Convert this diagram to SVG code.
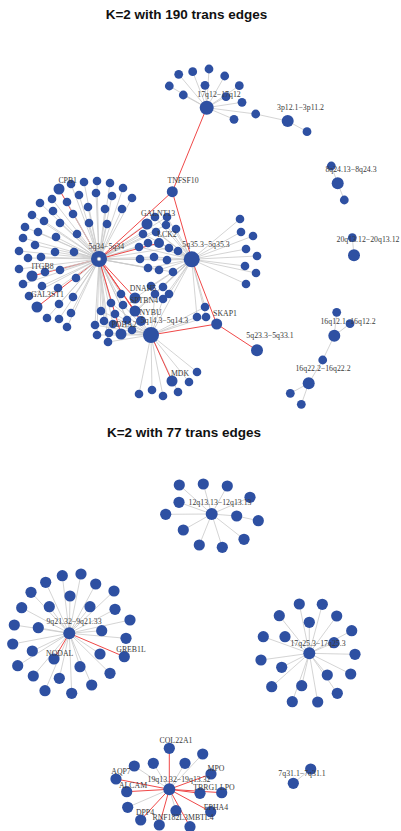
<svg xmlns="http://www.w3.org/2000/svg" width="401" height="831" viewBox="0 0 401 831">
<style>
.e{stroke:#c9c9c9;stroke-width:0.8;fill:none}
.t{stroke:#f04848;stroke-width:1;fill:none}
.n{fill:#2e50a2}
.lb{font-family:"Liberation Serif","Times New Roman",serif;font-size:7.8px;fill:#3a3a3a;text-anchor:middle}
.ti{font-family:"Liberation Sans",Arial,sans-serif;font-size:13.5px;font-weight:bold;fill:#111;text-anchor:middle}
</style>
<rect width="401" height="831" fill="#fff"/>
<text class="ti" x="186.5" y="19">K=2 with 190 trans edges</text>
<text class="ti" x="184" y="437">K=2 with 77 trans edges</text>

<!-- connectors -->
<g id="edges">
<!-- trans edges that run under the dense 5q34 fan -->
<path class="t" d="M99 259L59 189M99 259L32 276M99 259L37 307"/>
<!-- 17q12 and 3p12.1 hubs -->
<path class="e" d="M206.7 107.7L178.7 74.3M206.7 107.7L192.7 71.7M206.7 107.7L209 69M206.7 107.7L224.7 76M206.7 107.7L169.3 86M206.7 107.7L205 85.3M206.7 107.7L239.3 85.7M206.7 107.7L183.3 95M206.7 107.7L226 96.7M206.7 107.7L242 102.3M206.7 107.7L234 119.3M206.7 107.7L255.7 114L287.7 121L307 131.7"/>
<!-- small components on the right -->
<path class="e" d="M337.7 183.3L331.3 166M337.7 183.3L344.3 200M354 255.3L352.3 237.7M334.3 335.7L336.7 312.3M334.3 335.7L350 323.7M334.3 335.7L322.7 360L308.7 383.3L290.3 393.3M308.7 383.3L301.3 404.3"/>
<!-- 5q34 hub -->
<path class="e" d="M99 259L71 184M99 259L84 182M99 259L97 181M99 259L110 183M99 259L123 188M99 259L52 199M99 259L67 202M99 259L79 195M99 259L96 193M99 259L112 196M99 259L132 198M99 259L40 203M99 259L32 215M99 259L53 211M99 259L73 214M99 259L88 207M99 259L105 209M99 259L122 209M99 259L25 227M99 259L44 221M99 259L60 223M99 259L89 223M99 259L107 224M99 259L23 238M99 259L38 232M99 259L56 237M99 259L77 234M99 259L19 251M99 259L35 245M99 259L55 252M99 259L74 252M99 259L28 258M99 259L41 257M99 259L19 269M99 259L45 272M99 259L60 270M99 259L23 284M99 259L42 286M99 259L58 288M99 259L76 278M99 259L29 296M99 259L59 304M99 259L73 297M99 259L47 318M99 259L59 319M99 259L71 313M99 259L67 327"/>
<path class="e" d="M99 259L155 217M99 259L167 217M99 259L166 225M99 259L156 232M99 259L143 234M99 259L148 243M99 259L169 248M99 259L139 247M99 259L154 257M99 259L167 260M99 259L140 259M99 259L148 268M99 259L159 270M99 259L173 272"/>
<path class="e" d="M99 259L121 294M99 259L111 303M99 259L123 305M99 259L101 311M99 259L115 314M99 259L104 321M99 259L127 320M99 259L113 324M99 259L132 330M99 259L109 333M99 259L108 342M99 259L95 325M99 259L97 335M99 259L151 335"/>
<!-- 5q35.3 hub -->
<path class="e" d="M191.7 259.3L147 224M191.7 259.3L155 217M191.7 259.3L167 217M191.7 259.3L166 225M191.7 259.3L176 229M191.7 259.3L156 232M191.7 259.3L143 234M191.7 259.3L148 243M191.7 259.3L159 243M191.7 259.3L169 248M191.7 259.3L178 251M191.7 259.3L139 247M191.7 259.3L154 257M191.7 259.3L167 260M191.7 259.3L140 259M191.7 259.3L148 268M191.7 259.3L159 270M191.7 259.3L173 272"/>
<path class="e" d="M191.7 259.3L240 219M191.7 259.3L241 232M191.7 259.3L253 236M191.7 259.3L246 249M191.7 259.3L257 256M191.7 259.3L245 266M191.7 259.3L256 273M191.7 259.3L246 284M191.7 259.3L151 286M191.7 259.3L163 287M191.7 259.3L169 294M191.7 259.3L155 294M191.7 259.3L163 299M191.7 259.3L197 317M191.7 259.3L206 317M191.7 259.3L205 307M191.7 259.3L135 298M191.7 259.3L135 311M191.7 259.3L127 320M191.7 259.3L151 335"/>
<!-- 5q14.3 hub -->
<path class="e" d="M151 335L139 394M151 335L152 390M151 335L163 396M151 335L178 392M151 335L189 382M151 335L197 372M151 335L197 317M151 335L206 317M151 335L205 307M151 335L101 311M151 335L115 314M151 335L104 321M151 335L113 324M151 335L132 330M151 335L109 333M151 335L108 342M151 335L95 325M151 335L97 335M151 335L163 299M151 335L155 294M151 335L123 305M151 335L111 303"/>
<!-- trans edges, upper panel -->
<path class="t" d="M206.7 107.7L172.3 191.7L99 259M172.3 191.7L191.7 259.3L216.7 324L257 350.3M216.7 324L151 335L172 381M99 259L147 224M99 259L159 243M99 259L135 298M99 259L135 311M99 259L141 321M99 259L121 334"/>
<!-- lower panel -->
<path class="e" d="M211.7 514L179.3 485M211.7 514L203.3 484M211.7 514L227.3 486M211.7 514L250 497.3M211.7 514L179 502.3M211.7 514L165.7 514.3M211.7 514L236.7 516L258.3 520.7M211.7 514L183.3 530M211.7 514L244 539.3M211.7 514L199.3 545M211.7 514L222.3 547.3"/>
<path class="e" d="M69.3 633.3L62.3 575.7M69.3 633.3L81 574M69.3 633.3L45.7 582.3M69.3 633.3L95.7 584M69.3 633.3L31 592.3M69.3 633.3L70 596M69.3 633.3L114 591M69.3 633.3L21.7 607.7M69.3 633.3L49.3 606.7M69.3 633.3L90 606.7M69.3 633.3L115 609.3M69.3 633.3L130 620M69.3 633.3L14.3 625M69.3 633.3L38.3 627.7M69.3 633.3L101.7 630.7M69.3 633.3L126 638.3M69.3 633.3L12.7 644M69.3 633.3L32.3 651M69.3 633.3L100 654M69.3 633.3L17.7 665.7M69.3 633.3L80 666.7M69.3 633.3L110 673.3M69.3 633.3L33.3 676M69.3 633.3L59.3 678.3M69.3 633.3L91.7 685M69.3 633.3L45 690.7M69.3 633.3L71.7 693.3"/>
<path class="t" d="M69.3 633.3L54 659M69.3 633.3L124.3 656.7"/>
<path class="e" d="M309.3 653.3L299.3 604M309.3 653.3L322.3 604.3M309.3 653.3L279.3 615.7M309.3 653.3L336.7 616M309.3 653.3L309.3 622.3M309.3 653.3L351.7 630.7M309.3 653.3L263.3 636.7M309.3 653.3L285 636.7M309.3 653.3L334 642.7M309.3 653.3L355 654.3M309.3 653.3L261 660M309.3 653.3L281.7 667.3M309.3 653.3L327.3 675M309.3 653.3L350.7 674M309.3 653.3L271.7 686.7M309.3 653.3L301.7 685.7M309.3 653.3L337.3 693.3M309.3 653.3L292.3 701.7M309.3 653.3L317.7 702"/>
<path class="e" d="M169.3 789.3L202.7 754M169.3 789.3L153.3 763.3M169.3 789.3L185 763.3M169.3 789.3L134.3 766M169.3 789.3L127.7 807.3M169.3 789.3L176 810.7M310.7 769L293.3 783.3"/>
<path class="t" d="M169.3 789.3L169.3 748.3M169.3 789.3L211 774M169.3 789.3L116 779M169.3 789.3L126.7 791.7M169.3 789.3L200 793.3M169.3 789.3L221.7 792.7M169.3 789.3L210.7 811.7M169.3 789.3L140.7 820M169.3 789.3L159.3 825M169.3 789.3L190 826.7"/>
</g>

<!-- nodes: upper panel -->
<g id="hub-17q12" class="n"><circle cx="206.7" cy="107.7" r="7"/></g>
<g id="n17a" class="n"><circle cx="178.7" cy="74.3" r="4.4"/></g>
<g id="n17b" class="n"><circle cx="192.7" cy="71.7" r="4.4"/></g>
<g id="n17c" class="n"><circle cx="209" cy="69" r="4.4"/></g>
<g id="n17d" class="n"><circle cx="224.7" cy="76" r="4.4"/></g>
<g id="n17e" class="n"><circle cx="169.3" cy="86" r="4.4"/></g>
<g id="n17f" class="n"><circle cx="205" cy="85.3" r="4.4"/></g>
<g id="n17g" class="n"><circle cx="239.3" cy="85.7" r="4.4"/></g>
<g id="n17h" class="n"><circle cx="183.3" cy="95" r="4.4"/></g>
<g id="n17i" class="n"><circle cx="226" cy="96.7" r="4.4"/></g>
<g id="n17j" class="n"><circle cx="242" cy="102.3" r="4.4"/></g>
<g id="n17k" class="n"><circle cx="234" cy="119.3" r="4.4"/></g>
<g id="n17l" class="n"><circle cx="255.7" cy="114" r="4.4"/></g>
<g id="hub-3p12" class="n"><circle cx="287.7" cy="121" r="6"/></g>
<g id="n3a" class="n"><circle cx="307" cy="131.7" r="4.4"/></g>
<g id="n8a" class="n"><circle cx="331.3" cy="166" r="4.4"/></g>
<g id="hub-8q24" class="n"><circle cx="337.7" cy="183.3" r="6"/></g>
<g id="n8b" class="n"><circle cx="344.3" cy="200" r="4.4"/></g>
<g id="n20a" class="n"><circle cx="352.3" cy="237.7" r="4.4"/></g>
<g id="hub-20q13" class="n"><circle cx="354" cy="255.3" r="6"/></g>
<g id="n16a" class="n"><circle cx="336.7" cy="312.3" r="4.4"/></g>
<g id="n16b" class="n"><circle cx="350" cy="323.7" r="4.4"/></g>
<g id="hub-16q12" class="n"><circle cx="334.3" cy="335.7" r="6"/></g>
<g id="n16c" class="n"><circle cx="322.7" cy="360" r="4.4"/></g>
<g id="hub-16q22" class="n"><circle cx="308.7" cy="383.3" r="6"/></g>
<g id="n16d" class="n"><circle cx="290.3" cy="393.3" r="4.4"/></g>
<g id="n16e" class="n"><circle cx="301.3" cy="404.3" r="4.4"/></g>
<g id="hub-5q23" class="n"><circle cx="257" cy="350.3" r="6"/></g>
<g id="TNFSF10" class="n"><circle cx="172.3" cy="191.7" r="5.5"/></g>
<g id="SKAP1" class="n"><circle cx="216.7" cy="324" r="5.5"/></g>

<!-- 5q34 neighbours -->
<g id="CPB1" class="n"><circle cx="59" cy="189" r="5.5"/></g>
<g id="ITGB8" class="n"><circle cx="32" cy="276" r="5.5"/></g>
<g id="GAL3ST1" class="n"><circle cx="37" cy="307" r="5.5"/></g>
<g id="l01" class="n"><circle cx="71" cy="184" r="4.3"/></g>
<g id="l02" class="n"><circle cx="84" cy="182" r="4.3"/></g>
<g id="l03" class="n"><circle cx="97" cy="181" r="4.3"/></g>
<g id="l04" class="n"><circle cx="110" cy="183" r="4.3"/></g>
<g id="l05" class="n"><circle cx="123" cy="188" r="4.3"/></g>
<g id="l06" class="n"><circle cx="52" cy="199" r="4.3"/></g>
<g id="l07" class="n"><circle cx="67" cy="202" r="4.3"/></g>
<g id="l08" class="n"><circle cx="79" cy="195" r="4.3"/></g>
<g id="l09" class="n"><circle cx="96" cy="193" r="4.3"/></g>
<g id="l10" class="n"><circle cx="112" cy="196" r="4.3"/></g>
<g id="l11" class="n"><circle cx="132" cy="198" r="4.3"/></g>
<g id="l12" class="n"><circle cx="40" cy="203" r="4.3"/></g>
<g id="l13" class="n"><circle cx="32" cy="215" r="4.3"/></g>
<g id="l14" class="n"><circle cx="53" cy="211" r="4.3"/></g>
<g id="l15" class="n"><circle cx="73" cy="214" r="4.3"/></g>
<g id="l16" class="n"><circle cx="88" cy="207" r="4.3"/></g>
<g id="l17" class="n"><circle cx="105" cy="209" r="4.3"/></g>
<g id="l18" class="n"><circle cx="122" cy="209" r="4.3"/></g>
<g id="l19" class="n"><circle cx="25" cy="227" r="4.3"/></g>
<g id="l20" class="n"><circle cx="44" cy="221" r="4.3"/></g>
<g id="l21" class="n"><circle cx="60" cy="223" r="4.3"/></g>
<g id="l22" class="n"><circle cx="89" cy="223" r="4.3"/></g>
<g id="l23" class="n"><circle cx="107" cy="224" r="4.3"/></g>
<g id="l24" class="n"><circle cx="23" cy="238" r="4.3"/></g>
<g id="l25" class="n"><circle cx="38" cy="232" r="4.3"/></g>
<g id="l26" class="n"><circle cx="56" cy="237" r="4.3"/></g>
<g id="l27" class="n"><circle cx="77" cy="234" r="4.3"/></g>
<g id="l28" class="n"><circle cx="19" cy="251" r="4.3"/></g>
<g id="l29" class="n"><circle cx="35" cy="245" r="4.3"/></g>
<g id="l30" class="n"><circle cx="55" cy="252" r="4.3"/></g>
<g id="l31" class="n"><circle cx="74" cy="252" r="4.3"/></g>
<g id="l32" class="n"><circle cx="28" cy="258" r="4.3"/></g>
<g id="l33" class="n"><circle cx="41" cy="257" r="4.3"/></g>
<g id="l34" class="n"><circle cx="19" cy="269" r="4.3"/></g>
<g id="l35" class="n"><circle cx="45" cy="272" r="4.3"/></g>
<g id="l36" class="n"><circle cx="60" cy="270" r="4.3"/></g>
<g id="l37" class="n"><circle cx="23" cy="284" r="4.3"/></g>
<g id="l38" class="n"><circle cx="42" cy="286" r="4.3"/></g>
<g id="l39" class="n"><circle cx="58" cy="288" r="4.3"/></g>
<g id="l40" class="n"><circle cx="76" cy="278" r="4.3"/></g>
<g id="l41" class="n"><circle cx="29" cy="296" r="4.3"/></g>
<g id="l42" class="n"><circle cx="59" cy="304" r="4.3"/></g>
<g id="l43" class="n"><circle cx="73" cy="297" r="4.3"/></g>
<g id="l44" class="n"><circle cx="47" cy="318" r="4.3"/></g>
<g id="l45" class="n"><circle cx="59" cy="319" r="4.3"/></g>
<g id="l46" class="n"><circle cx="71" cy="313" r="4.3"/></g>
<g id="l47" class="n"><circle cx="67" cy="327" r="4.3"/></g>

<!-- shared neighbours between 5q34 and 5q35.3 -->
<g id="GALNT13" class="n"><circle cx="147" cy="224" r="5.5"/></g>
<g id="LCK2" class="n"><circle cx="159" cy="243" r="5"/></g>
<g id="m01" class="n"><circle cx="155" cy="217" r="4.3"/></g>
<g id="m02" class="n"><circle cx="167" cy="217" r="4.3"/></g>
<g id="m03" class="n"><circle cx="166" cy="225" r="4.3"/></g>
<g id="m04" class="n"><circle cx="176" cy="229" r="4.3"/></g>
<g id="m05" class="n"><circle cx="156" cy="232" r="4.3"/></g>
<g id="m06" class="n"><circle cx="143" cy="234" r="4.3"/></g>
<g id="m07" class="n"><circle cx="148" cy="243" r="4.3"/></g>
<g id="m08" class="n"><circle cx="169" cy="248" r="4.3"/></g>
<g id="m09" class="n"><circle cx="178" cy="251" r="4.3"/></g>
<g id="m10" class="n"><circle cx="139" cy="247" r="4.3"/></g>
<g id="m11" class="n"><circle cx="154" cy="257" r="4.3"/></g>
<g id="m12" class="n"><circle cx="167" cy="260" r="4.3"/></g>
<g id="m13" class="n"><circle cx="140" cy="259" r="4.3"/></g>
<g id="m14" class="n"><circle cx="148" cy="268" r="4.3"/></g>
<g id="m15" class="n"><circle cx="159" cy="270" r="4.3"/></g>
<g id="m16" class="n"><circle cx="173" cy="272" r="4.3"/></g>

<!-- 5q35.3 outer neighbours -->
<g id="r1" class="n"><circle cx="240" cy="219" r="4.3"/></g>
<g id="r2" class="n"><circle cx="241" cy="232" r="4.3"/></g>
<g id="r3" class="n"><circle cx="253" cy="236" r="4.3"/></g>
<g id="r4" class="n"><circle cx="246" cy="249" r="4.3"/></g>
<g id="r5" class="n"><circle cx="257" cy="256" r="4.3"/></g>
<g id="r6" class="n"><circle cx="245" cy="266" r="4.3"/></g>
<g id="r7" class="n"><circle cx="256" cy="273" r="4.3"/></g>
<g id="r8" class="n"><circle cx="246" cy="284" r="4.3"/></g>

<!-- 5q14.3 neighbourhood -->
<g id="DNAH5" class="n"><circle cx="135" cy="298" r="5.5"/></g>
<g id="SPTBN4" class="n"><circle cx="135" cy="311" r="5.5"/></g>
<g id="NYBU" class="n"><circle cx="141" cy="321" r="5"/></g>
<g id="PDHA2" class="n"><circle cx="121" cy="334" r="5.5"/></g>
<g id="MDK" class="n"><circle cx="172" cy="381" r="5.5"/></g>
<g id="w01" class="n"><circle cx="151" cy="286" r="4.3"/></g>
<g id="w02" class="n"><circle cx="163" cy="287" r="4.3"/></g>
<g id="w03" class="n"><circle cx="169" cy="294" r="4.3"/></g>
<g id="w04" class="n"><circle cx="155" cy="294" r="4.3"/></g>
<g id="w05" class="n"><circle cx="163" cy="299" r="4.3"/></g>
<g id="w06" class="n"><circle cx="121" cy="294" r="4.3"/></g>
<g id="w07" class="n"><circle cx="111" cy="303" r="4.3"/></g>
<g id="w08" class="n"><circle cx="123" cy="305" r="4.3"/></g>
<g id="w09" class="n"><circle cx="101" cy="311" r="4.3"/></g>
<g id="w10" class="n"><circle cx="115" cy="314" r="4.3"/></g>
<g id="w11" class="n"><circle cx="104" cy="321" r="4.3"/></g>
<g id="w12" class="n"><circle cx="127" cy="320" r="4.3"/></g>
<g id="w13" class="n"><circle cx="113" cy="324" r="4.3"/></g>
<g id="w14" class="n"><circle cx="132" cy="330" r="4.3"/></g>
<g id="w15" class="n"><circle cx="109" cy="333" r="4.3"/></g>
<g id="w16" class="n"><circle cx="108" cy="342" r="4.3"/></g>
<g id="w17" class="n"><circle cx="95" cy="325" r="4.3"/></g>
<g id="w18" class="n"><circle cx="97" cy="335" r="4.3"/></g>
<g id="w19" class="n"><circle cx="197" cy="317" r="4.3"/></g>
<g id="w20" class="n"><circle cx="206" cy="317" r="4.3"/></g>
<g id="w21" class="n"><circle cx="205" cy="307" r="4.3"/></g>
<g id="w22" class="n"><circle cx="139" cy="394" r="4.3"/></g>
<g id="w23" class="n"><circle cx="152" cy="390" r="4.3"/></g>
<g id="w24" class="n"><circle cx="163" cy="396" r="4.3"/></g>
<g id="w25" class="n"><circle cx="178" cy="392" r="4.3"/></g>
<g id="w26" class="n"><circle cx="189" cy="382" r="4.3"/></g>
<g id="w27" class="n"><circle cx="197" cy="372" r="4.3"/></g>

<!-- hubs of the main component -->
<g id="hub-5q34"><circle class="n" cx="99" cy="259" r="8"/><circle cx="99" cy="259" r="1.8" fill="#fff" stroke="#bbb" stroke-width="0.5"/></g>
<g id="hub-5q35" class="n"><circle cx="191.7" cy="259.3" r="8"/></g>
<g id="hub-5q14" class="n"><circle cx="151" cy="335" r="8"/></g>

<!-- nodes: lower panel -->
<g id="hub-12q13" class="n"><circle cx="211.7" cy="514" r="6"/></g>
<g id="a01" class="n"><circle cx="179.3" cy="485" r="5.6"/></g>
<g id="a02" class="n"><circle cx="203.3" cy="484" r="5.6"/></g>
<g id="a03" class="n"><circle cx="227.3" cy="486" r="5.6"/></g>
<g id="a04" class="n"><circle cx="250" cy="497.3" r="5.6"/></g>
<g id="a05" class="n"><circle cx="179" cy="502.3" r="5.6"/></g>
<g id="a06" class="n"><circle cx="165.7" cy="514.3" r="5.6"/></g>
<g id="a07" class="n"><circle cx="236.7" cy="516" r="5.6"/></g>
<g id="a08" class="n"><circle cx="258.3" cy="520.7" r="5.6"/></g>
<g id="a09" class="n"><circle cx="183.3" cy="530" r="5.6"/></g>
<g id="a10" class="n"><circle cx="244" cy="539.3" r="5.6"/></g>
<g id="a11" class="n"><circle cx="199.3" cy="545" r="5.6"/></g>
<g id="a12" class="n"><circle cx="222.3" cy="547.3" r="5.6"/></g>

<g id="hub-9q21" class="n"><circle cx="69.3" cy="633.3" r="6"/></g>
<g id="NODAL" class="n"><circle cx="54" cy="659" r="5.6"/></g>
<g id="GREB1L" class="n"><circle cx="124.3" cy="656.7" r="5.6"/></g>
<g id="b01" class="n"><circle cx="62.3" cy="575.7" r="5.6"/></g>
<g id="b02" class="n"><circle cx="81" cy="574" r="5.6"/></g>
<g id="b03" class="n"><circle cx="45.7" cy="582.3" r="5.6"/></g>
<g id="b04" class="n"><circle cx="95.7" cy="584" r="5.6"/></g>
<g id="b05" class="n"><circle cx="31" cy="592.3" r="5.6"/></g>
<g id="b06" class="n"><circle cx="70" cy="596" r="5.6"/></g>
<g id="b07" class="n"><circle cx="114" cy="591" r="5.6"/></g>
<g id="b08" class="n"><circle cx="21.7" cy="607.7" r="5.6"/></g>
<g id="b09" class="n"><circle cx="49.3" cy="606.7" r="5.6"/></g>
<g id="b10" class="n"><circle cx="90" cy="606.7" r="5.6"/></g>
<g id="b11" class="n"><circle cx="115" cy="609.3" r="5.6"/></g>
<g id="b12" class="n"><circle cx="130" cy="620" r="5.6"/></g>
<g id="b13" class="n"><circle cx="14.3" cy="625" r="5.6"/></g>
<g id="b14" class="n"><circle cx="38.3" cy="627.7" r="5.6"/></g>
<g id="b15" class="n"><circle cx="101.7" cy="630.7" r="5.6"/></g>
<g id="b16" class="n"><circle cx="126" cy="638.3" r="5.6"/></g>
<g id="b17" class="n"><circle cx="12.7" cy="644" r="5.6"/></g>
<g id="b18" class="n"><circle cx="32.3" cy="651" r="5.6"/></g>
<g id="b19" class="n"><circle cx="100" cy="654" r="5.6"/></g>
<g id="b20" class="n"><circle cx="17.7" cy="665.7" r="5.6"/></g>
<g id="b21" class="n"><circle cx="80" cy="666.7" r="5.6"/></g>
<g id="b22" class="n"><circle cx="110" cy="673.3" r="5.6"/></g>
<g id="b23" class="n"><circle cx="33.3" cy="676" r="5.6"/></g>
<g id="b24" class="n"><circle cx="59.3" cy="678.3" r="5.6"/></g>
<g id="b25" class="n"><circle cx="91.7" cy="685" r="5.6"/></g>
<g id="b26" class="n"><circle cx="45" cy="690.7" r="5.6"/></g>
<g id="b27" class="n"><circle cx="71.7" cy="693.3" r="5.6"/></g>

<g id="hub-17q25" class="n"><circle cx="309.3" cy="653.3" r="6"/></g>
<g id="c01" class="n"><circle cx="299.3" cy="604" r="5.6"/></g>
<g id="c02" class="n"><circle cx="322.3" cy="604.3" r="5.6"/></g>
<g id="c03" class="n"><circle cx="279.3" cy="615.7" r="5.6"/></g>
<g id="c04" class="n"><circle cx="336.7" cy="616" r="5.6"/></g>
<g id="c05" class="n"><circle cx="309.3" cy="622.3" r="5.6"/></g>
<g id="c06" class="n"><circle cx="351.7" cy="630.7" r="5.6"/></g>
<g id="c07" class="n"><circle cx="263.3" cy="636.7" r="5.6"/></g>
<g id="c08" class="n"><circle cx="285" cy="636.7" r="5.6"/></g>
<g id="c09" class="n"><circle cx="334" cy="642.7" r="5.6"/></g>
<g id="c10" class="n"><circle cx="355" cy="654.3" r="5.6"/></g>
<g id="c11" class="n"><circle cx="261" cy="660" r="5.6"/></g>
<g id="c12" class="n"><circle cx="281.7" cy="667.3" r="5.6"/></g>
<g id="c13" class="n"><circle cx="327.3" cy="675" r="5.6"/></g>
<g id="c14" class="n"><circle cx="350.7" cy="674" r="5.6"/></g>
<g id="c15" class="n"><circle cx="271.7" cy="686.7" r="5.6"/></g>
<g id="c16" class="n"><circle cx="301.7" cy="685.7" r="5.6"/></g>
<g id="c17" class="n"><circle cx="337.3" cy="693.3" r="5.6"/></g>
<g id="c18" class="n"><circle cx="292.3" cy="701.7" r="5.6"/></g>
<g id="c19" class="n"><circle cx="317.7" cy="702" r="5.6"/></g>

<g id="hub-19q13" class="n"><circle cx="169.3" cy="789.3" r="6"/></g>
<g id="COL22A1" class="n"><circle cx="169.3" cy="748.3" r="5.6"/></g>
<g id="MPO" class="n"><circle cx="211" cy="774" r="5.6"/></g>
<g id="AQP7" class="n"><circle cx="116" cy="779" r="5.6"/></g>
<g id="ALCAM" class="n"><circle cx="126.7" cy="791.7" r="5.6"/></g>
<g id="TBRG1" class="n"><circle cx="200" cy="793.3" r="5.6"/></g>
<g id="LPO" class="n"><circle cx="221.7" cy="792.7" r="5.6"/></g>
<g id="EPHA4" class="n"><circle cx="210.7" cy="811.7" r="5.6"/></g>
<g id="DPP4" class="n"><circle cx="140.7" cy="820" r="5.6"/></g>
<g id="RNF182" class="n"><circle cx="159.3" cy="825" r="5.6"/></g>
<g id="L3MBTL4" class="n"><circle cx="190" cy="826.7" r="5.6"/></g>
<g id="d01" class="n"><circle cx="202.7" cy="754" r="5.6"/></g>
<g id="d02" class="n"><circle cx="153.3" cy="763.3" r="5.6"/></g>
<g id="d03" class="n"><circle cx="185" cy="763.3" r="5.6"/></g>
<g id="d04" class="n"><circle cx="134.3" cy="766" r="5.6"/></g>
<g id="d05" class="n"><circle cx="127.7" cy="807.3" r="5.6"/></g>
<g id="d06" class="n"><circle cx="176" cy="810.7" r="5.6"/></g>

<g id="n7a" class="n"><circle cx="310.7" cy="769" r="5.6"/></g>
<g id="hub-7q31" class="n"><circle cx="293.3" cy="783.3" r="5.6"/></g>

<!-- labels -->
<g id="labels">
<text class="lb" x="219" y="96.7">17q12−17q12</text>
<text class="lb" x="300.5" y="110">3p12.1−3p11.2</text>
<text class="lb" x="351" y="171.7">8q24.13−8q24.3</text>
<text class="lb" x="368" y="242">20q13.12−20q13.12</text>
<text class="lb" x="183" y="183.3">TNFSF10</text>
<text class="lb" x="67.7" y="182.7">CPB1</text>
<text class="lb" x="158" y="216">GALNT13</text>
<text class="lb" x="167" y="237.3">LCK2</text>
<text class="lb" x="106.3" y="249">5q34−5q34</text>
<text class="lb" x="206" y="247.3">5q35.3−5q35.3</text>
<text class="lb" x="42.5" y="269.3">ITGB8</text>
<text class="lb" x="47.5" y="297.3">GAL3ST1</text>
<text class="lb" x="143" y="291">DNAH5</text>
<text class="lb" x="144" y="303.3">SPTBN4</text>
<text class="lb" x="150.5" y="315">NYBU</text>
<text class="lb" x="164.5" y="323.3">5q14.3−5q14.3</text>
<text class="lb" x="124" y="327.3">PDHA2</text>
<text class="lb" x="225" y="316">SKAP1</text>
<text class="lb" x="270" y="338.3">5q23.3−5q33.1</text>
<text class="lb" x="348" y="324">16q12.1−16q12.2</text>
<text class="lb" x="323" y="371">16q22.2−16q22.2</text>
<text class="lb" x="180" y="376">MDK</text>
<text class="lb" x="220" y="505">12q13.13−12q13.13</text>
<text class="lb" x="74" y="624">9q21.32−9q21.33</text>
<text class="lb" x="59.7" y="655.7">NODAL</text>
<text class="lb" x="131" y="651.7">GREB1L</text>
<text class="lb" x="318" y="646">17q25.3−17q25.3</text>
<text class="lb" x="176" y="742.7">COL22A1</text>
<text class="lb" x="216" y="770.7">MPO</text>
<text class="lb" x="121" y="774">AQP7</text>
<text class="lb" x="179" y="781.7">19q13.32−19q13.32</text>
<text class="lb" x="133" y="788.3">ALCAM</text>
<text class="lb" x="214" y="790">TBRG1 LPO</text>
<text class="lb" x="216" y="810">EPHA4</text>
<text class="lb" x="145" y="815">DPP4</text>
<text class="lb" x="183" y="820">RNF182L3MBTL4</text>
<text class="lb" x="302" y="776">7q31.1−7q31.1</text>
</g>
</svg>
